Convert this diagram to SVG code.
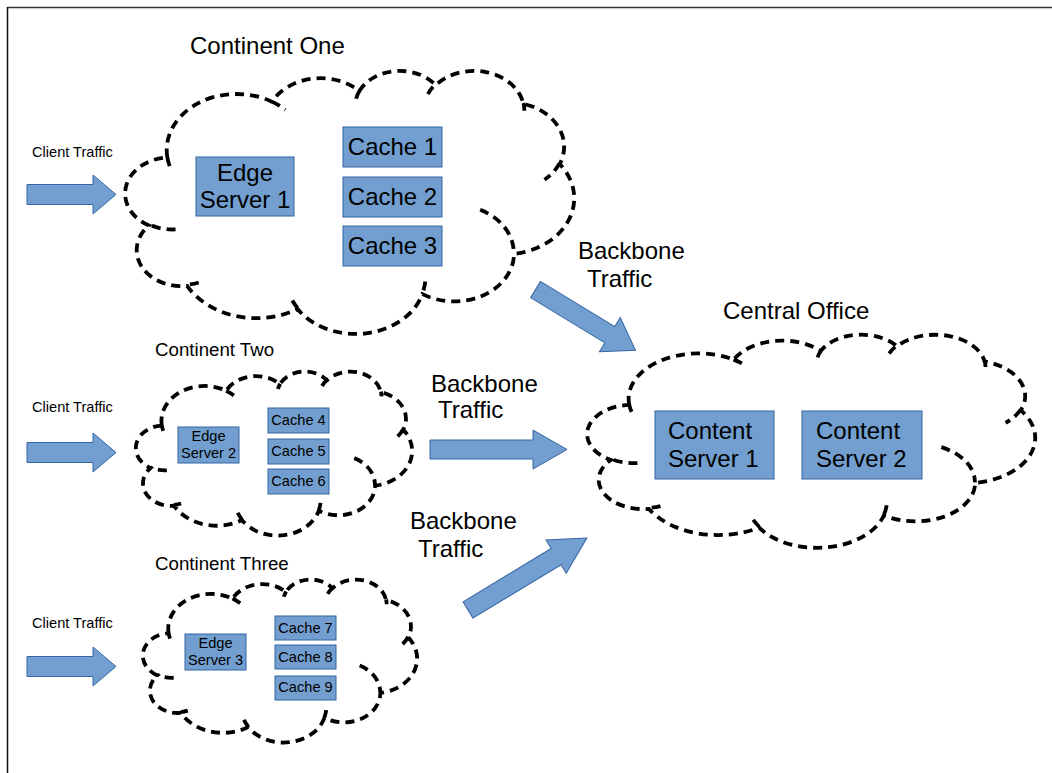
<svg xmlns="http://www.w3.org/2000/svg" xmlns:xlink="http://www.w3.org/1999/xlink" width="1052" height="773" viewBox="0 0 1052 773">
<style>
text{font-family:"Liberation Sans",Arial,sans-serif;fill:#000}
.cl{fill:none;stroke:#000;stroke-width:3.8;stroke-dasharray:9 6;vector-effect:non-scaling-stroke}
.box{fill:#729fcf;stroke:#3465a4;stroke-width:1}
.arr{fill:#729fcf;stroke:#3465a4;stroke-width:1}
.b24{font-size:24px}
.s15{font-size:14.6px}
.s19{font-size:18.7px}
.c{text-anchor:middle}
</style>
<defs>
<path id="cloud" d="M39,143.7 A67.53,91.9 0 0 1 140.05,52.02 A53.33,72.67 0 0 1 224.56,34.32 A43.65,59.45 0 0 1 298.32,24.8 A48.57,65.95 0 0 1 383.17,55.75 A53.33,72.73 0 0 1 418.18,154.58 A67.75,92.2 0 0 1 374.05,302.04 A57.85,78.67 0 0 1 285.56,368.14 A67.52,92.15 0 0 1 164.81,392.66 A77.2,105.43 0 0 1 58.05,354.7 A43.6,59.18 0 0 1 21.14,255.47 A43.45,59.45 0 0 1 39,143.7 Z M46.93,261.77 A43.45,59.45 0 0 1 21.6,253.8 M69.28,348.99 A43.6,59.18 0 0 1 58.2,352.81 M164.78,390.9 A67.52,92.15 0 0 1 158.1,373.49 M288.27,347.51 A67.52,92.15 0 0 1 285.6,366.6 M341.29,229.54 A57.85,78.67 0 0 1 373.81,300.9 M417.98,153.54 A53.33,72.73 0 0 1 403.5,180.3 M383.24,54.26 A48.57,65.95 0 0 1 384,66.9 M290.78,39.52 A48.57,65.95 0 0 1 298.2,23.4 M221.41,47.2 A43.65,59.45 0 0 1 225,33.3 M140,51.92 A67.53,91.9 0 0 1 153,65.4 M41.27,157.89 A67.53,91.9 0 0 1 39,143.71" class="cl"/>
<polygon id="carrow" points="0,-10 66,-10 66,-19.5 89,0 66,19.5 66,10 0,10" class="arr"/>
</defs>

<g id="frame">
<line x1="7.5" y1="7.5" x2="1052" y2="7.5" stroke="#333" stroke-width="1.5"/>
<line x1="7.5" y1="7" x2="7.5" y2="773" stroke="#111" stroke-width="1.5"/>
</g>

<g id="continent-one">
<use xlink:href="#cloud" transform="translate(127,70) scale(1.0347,0.6088)"/>
<text class="b24" x="190" y="54">Continent One</text>
</g>
<g id="edge-server-1">
<rect class="box" x="196" y="157" width="98" height="59"/>
<text class="b24 c" x="245" y="181">Edge</text>
<text class="b24 c" x="245" y="208">Server 1</text>
</g>
<g id="cache-1"><rect class="box" x="343" y="127" width="99" height="40"/><text class="b24 c" x="392.5" y="155">Cache 1</text></g>
<g id="cache-2"><rect class="box" x="343" y="177" width="99" height="40"/><text class="b24 c" x="392.5" y="205">Cache 2</text></g>
<g id="cache-3"><rect class="box" x="343" y="226" width="99" height="40"/><text class="b24 c" x="392.5" y="254">Cache 3</text></g>

<g id="central-office">
<use xlink:href="#cloud" transform="translate(589,334) scale(1.0324,0.4931)"/>
<text class="b24" x="723" y="319">Central Office</text>
</g>
<g id="content-server-1">
<rect class="box" x="655" y="411" width="119" height="68"/>
<text class="b24" x="668" y="439">Content</text>
<text class="b24" x="668" y="467">Server 1</text>
</g>
<g id="content-server-2">
<rect class="box" x="802" y="411" width="120" height="68"/>
<text class="b24" x="816" y="439">Content</text>
<text class="b24" x="816" y="467">Server 2</text>
</g>

<g id="continent-two">
<use xlink:href="#cloud" transform="translate(137,371) scale(0.6366,0.3796)"/>
<text class="s19" x="155" y="356">Continent Two</text>
</g>
<g id="edge-server-2">
<rect class="box" x="178" y="427" width="61" height="36"/>
<text class="s15 c" x="208.5" y="441">Edge</text>
<text class="s15 c" x="208.5" y="458">Server 2</text>
</g>
<g id="cache-4"><rect class="box" x="268" y="408" width="61" height="25"/><text class="s15 c" x="298.5" y="425">Cache 4</text></g>
<g id="cache-5"><rect class="box" x="268" y="439" width="61" height="25"/><text class="s15 c" x="298.5" y="456">Cache 5</text></g>
<g id="cache-6"><rect class="box" x="268" y="469" width="61" height="25"/><text class="s15 c" x="298.5" y="486">Cache 6</text></g>

<g id="continent-three">
<use xlink:href="#cloud" transform="translate(144,579) scale(0.6319,0.3773)"/>
<text class="s19" x="155" y="570">Continent Three</text>
</g>
<g id="edge-server-3">
<rect class="box" x="185" y="634" width="61" height="36"/>
<text class="s15 c" x="215.5" y="648">Edge</text>
<text class="s15 c" x="215.5" y="665">Server 3</text>
</g>
<g id="cache-7"><rect class="box" x="275" y="616" width="61" height="24"/><text class="s15 c" x="305.5" y="633">Cache 7</text></g>
<g id="cache-8"><rect class="box" x="275" y="645" width="61" height="24"/><text class="s15 c" x="305.5" y="662">Cache 8</text></g>
<g id="cache-9"><rect class="box" x="275" y="676" width="61" height="24"/><text class="s15 c" x="305.5" y="692">Cache 9</text></g>

<g id="connectors">
<g id="client-traffic-1">
<use xlink:href="#carrow" transform="translate(27,194.5)"/>
<text class="s15" x="32" y="157">Client Traffic</text>
</g>
<g id="client-traffic-2">
<use xlink:href="#carrow" transform="translate(27,452.5)"/>
<text class="s15" x="32" y="412">Client Traffic</text>
</g>
<g id="client-traffic-3">
<use xlink:href="#carrow" transform="translate(27,666.5)"/>
<text class="s15" x="32" y="628">Client Traffic</text>
</g>
<g id="backbone-1">
<polygon class="arr" points="0,-9.5 87,-9.5 87,-20 117,0 87,20 87,9.5 0,9.5" transform="translate(535.5,289.5) rotate(31.3)"/>
<text class="b24" x="578" y="259">Backbone</text>
<text class="b24" x="587" y="287">Traffic</text>
</g>
<g id="backbone-2">
<polygon class="arr" points="0,-9.5 103,-9.5 103,-19.5 137,0 103,19.5 103,9.5 0,9.5" transform="translate(430,449.5)"/>
<text class="b24" x="431" y="392">Backbone</text>
<text class="b24" x="438" y="418">Traffic</text>
</g>
<g id="backbone-3">
<polygon class="arr" points="0,-9.5 103,-9.5 103,-19.5 139,0 103,19.5 103,9.5 0,9.5" transform="translate(468,610) rotate(-31.2)"/>
<text class="b24" x="410" y="529">Backbone</text>
<text class="b24" x="418" y="557">Traffic</text>
</g>
</g>
</svg>
